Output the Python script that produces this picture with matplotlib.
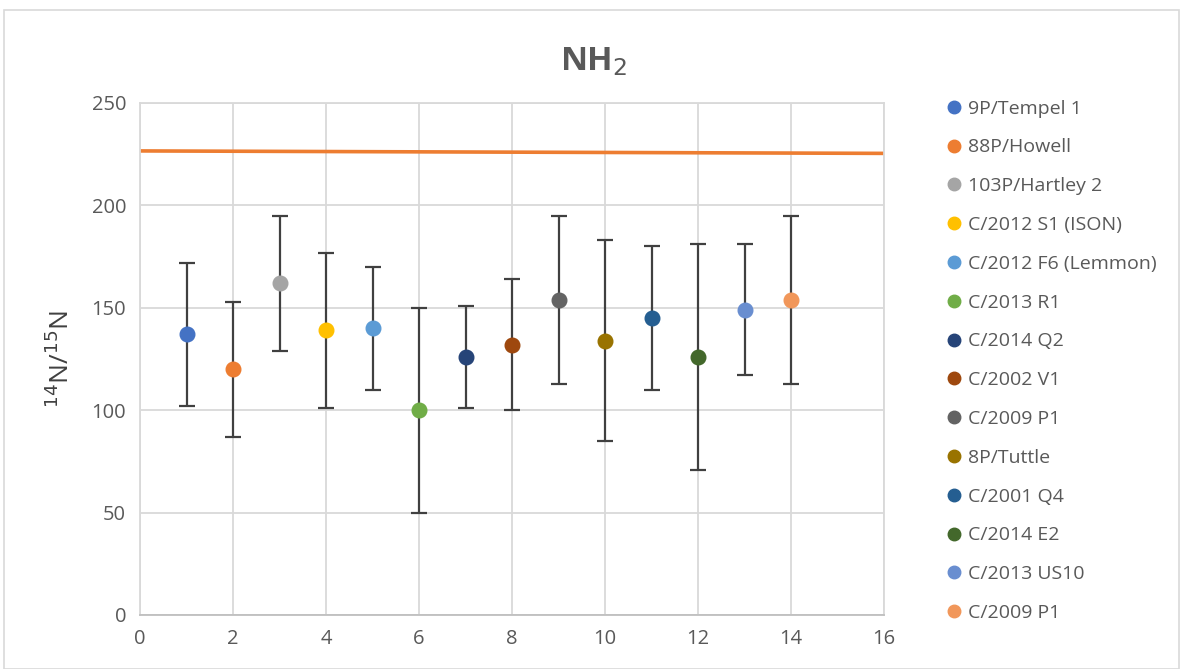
import matplotlib.pyplot as plt
from matplotlib.lines import Line2D
from matplotlib.patches import Rectangle

plt.rcParams['font.family'] = ['Open Sans', 'DejaVu Sans']

comets = ['9P/Tempel 1', '88P/Howell', '103P/Hartley 2', 'C/2012 S1 (ISON)',
          'C/2012 F6 (Lemmon)', 'C/2013 R1', 'C/2014 Q2', 'C/2002 V1',
          'C/2009 P1', '8P/Tuttle', 'C/2001 Q4', 'C/2014 E2', 'C/2013 US10',
          'C/2009 P1']
x_pos = [1, 2, 3, 4, 5, 6, 7, 8, 9, 10, 11, 12, 13, 14]
ratio = [137, 120, 162, 139, 140, 100, 126, 132, 154, 134, 145, 126, 149, 154]
upper = [172, 153, 195, 177, 170, 150, 151, 164, 195, 183, 180, 181, 181, 195]
lower = [102, 87, 129, 101, 110, 50, 101, 100, 113, 85, 110, 71, 117, 113]
colors = ['#4472C4', '#ED7D31', '#A5A5A5', '#FFC000', '#5B9BD5', '#70AD47',
          '#264478', '#9E480E', '#636363', '#997300', '#255E91', '#43682B',
          '#698ED0', '#F1975A']

# reference line
ref_x = [0, 16]
ref_y = [226.6, 225.4]

fig = plt.figure(figsize=(11.87, 6.69), dpi=100)
fig.patches.append(Rectangle((0.003, 0.0), 0.99, 0.985, transform=fig.transFigure,
                             fill=False, edgecolor='#d9d9d9', linewidth=1.2))
ax = fig.add_axes([140 / 1187, 1 - 615 / 669, 744 / 1187, 512 / 669])

ax.plot(ref_x, ref_y, color='#ED7D31', linewidth=2.6, zorder=2)

handles = []
for i in range(len(x_pos)):
    ax.errorbar(x_pos[i], ratio[i],
                yerr=[[ratio[i] - lower[i]], [upper[i] - ratio[i]]],
                fmt='none', ecolor='#404040', elinewidth=1.6, capsize=6,
                capthick=1.6, zorder=3)
    ax.plot(x_pos[i], ratio[i], 'o', color=colors[i], markersize=10.5, zorder=4)
    handles.append(Line2D([], [], marker='o', linestyle='none', color=colors[i],
                          markersize=9, label=comets[i]))

ax.set_xlim(0, 16)
ax.set_ylim(0, 250)
ax.set_xticks(range(0, 17, 2))
ax.set_yticks(range(0, 251, 50))
ax.grid(True, color='#d9d9d9', linewidth=1.3)
ax.set_axisbelow(True)
for s in ['top', 'right', 'left']:
    ax.spines[s].set_color('#d9d9d9')
    ax.spines[s].set_linewidth(1.3)
ax.spines['bottom'].set_color('#bfbfbf')
ax.spines['bottom'].set_linewidth(1.3)
ax.tick_params(length=0, labelsize=14.5, labelcolor='#595959', pad=10)

ax.set_ylabel('$^{14}$N/$^{15}$N', fontsize=19, color='#404040', labelpad=12)
fig.text(0.5, 1 - 62 / 669, 'NH$_2$', fontsize=24, fontweight='bold',
         color='#595959', ha='center', va='center')

fig.legend(handles=handles, loc='upper left', bbox_to_anchor=(925 / 1187, 1 - 82 / 669),
           frameon=False, fontsize=14, labelspacing=1.07, handletextpad=0.1,
           handlelength=1.2, labelcolor='#595959')

fig.savefig('out.png', dpi=100)
